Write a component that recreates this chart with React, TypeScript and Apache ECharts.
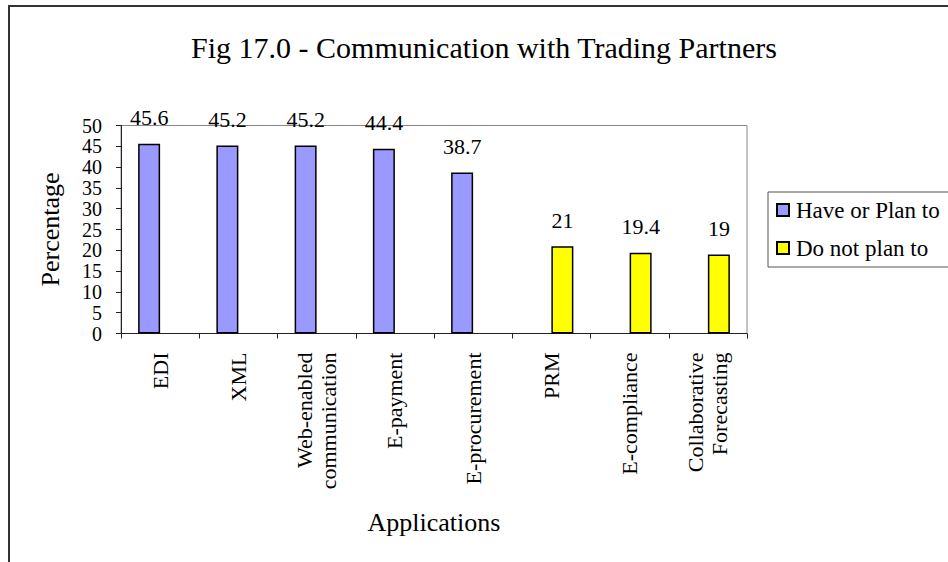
import React, { useEffect, useRef } from "react";
import * as echarts from "echarts";

const categories = [
  "EDI",
  "XML",
  "Web-enabled\ncommunication",
  "E-payment",
  "E-procurement",
  "PRM",
  "E-compliance",
  "Collaborative\nForecasting",
];
const haveOrPlanTo = [45.6, 45.2, 45.2, 44.4, 38.7, "-", "-", "-"];
const doNotPlanTo = ["-", "-", "-", "-", "-", 21, 19.4, 19];
const seriesNames = ["Have or Plan to", "Do not plan to"];
const titleText = "Fig 17.0 - Communication with Trading Partners";

const FONT = "Liberation Serif, serif";

export default function App() {
  const ref = useRef<HTMLDivElement>(null);
  useEffect(() => {
    if (!ref.current) return;
    const chart = echarts.init(ref.current, undefined, { renderer: "svg" });
    const labelCfg = {
      show: true,
      position: "top",
      distance: 15,
      color: "#000",
      fontSize: 22,
      fontFamily: FONT,
    };
    chart.setOption({
      animation: false,
      backgroundColor: "#fff",
      textStyle: { fontFamily: FONT, color: "#000" },
      graphic: [
        {
          type: "rect",
          shape: { x: 9, y: 6, width: 1200, height: 1200 },
          style: { fill: "none", stroke: "#333", lineWidth: 2 },
          silent: true,
        },
        {
          type: "text",
          x: 484,
          y: 47,
          style: {
            text: titleText,
            fontSize: 30,
            fontFamily: FONT,
            fill: "#000",
            textAlign: "center",
            textVerticalAlign: "middle",
          },
        },
      ],
      legend: {
        orient: "vertical",
        left: 768,
        top: 192,
        padding: [5, 20, 6, 8],
        itemGap: 12,
        itemWidth: 12,
        itemHeight: 12,
        icon: "rect",
        borderColor: "#555",
        borderWidth: 1,
        textStyle: { fontSize: 23, fontFamily: FONT, color: "#000", lineHeight: 26, padding: [0, 0, 0, 2] },
        data: seriesNames,
      },
      grid: {
        left: 121,
        top: 125.5,
        right: 201,
        bottom: 228.5,
        show: true,
        borderColor: "#888",
        borderWidth: 1,
        containLabel: false,
      },
      xAxis: {
        type: "category",
        data: categories,
        name: "Applications",
        nameLocation: "middle",
        nameGap: 176,
        nameTextStyle: { fontSize: 26, fontFamily: FONT, color: "#000" },
        axisLine: { show: true, lineStyle: { color: "#222", width: 1 } },
        axisTick: { show: true, length: 5, interval: 0, alignWithLabel: false, lineStyle: { color: "#222" } },
        axisLabel: {
          interval: 0,
          rotate: 90,
          margin: 19,
          fontSize: 22,
          lineHeight: 24,
          fontFamily: FONT,
          color: "#000",
        },
        splitLine: { show: false },
      },
      yAxis: {
        type: "value",
        min: 0,
        max: 50,
        interval: 5,
        name: "Percentage",
        nameLocation: "middle",
        nameRotate: 90,
        nameGap: 58,
        nameTextStyle: { fontSize: 26, fontFamily: FONT, color: "#000" },
        axisLine: { show: true, lineStyle: { color: "#222", width: 1 } },
        axisTick: { show: true, length: 5, lineStyle: { color: "#222" } },
        axisLabel: {
          fontSize: 20,
          lineHeight: 20,
          margin: 19,
          fontFamily: FONT,
          color: "#000",
          showMinLabel: true,
          showMaxLabel: true,
          hideOverlap: false,
        },
        splitLine: { show: false },
      },
      series: [
        {
          name: seriesNames[0],
          type: "bar",
          data: haveOrPlanTo,
          barWidth: 22,
          barGap: "0%",
          itemStyle: { color: "#9999FF", borderColor: "#000", borderWidth: 1.5 },
          label: labelCfg,
        },
        {
          name: seriesNames[1],
          type: "bar",
          data: doNotPlanTo,
          barWidth: 22,
          barGap: "0%",
          itemStyle: { color: "#FFFF00", borderColor: "#000", borderWidth: 1.5 },
          label: labelCfg,
        },
      ],
    });
    return () => chart.dispose();
  }, []);
  return (
    <div
      ref={ref}
      style={{ position: "absolute", left: 0, top: 0, width: 948, height: 562 }}
    />
  );
}
